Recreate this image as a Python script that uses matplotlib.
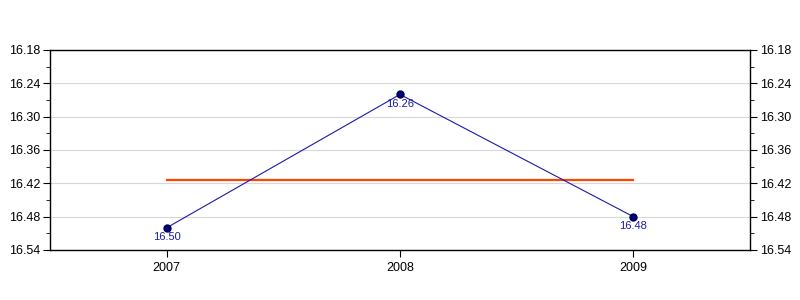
import matplotlib
matplotlib.use("Agg")
import matplotlib.pyplot as plt
from matplotlib.ticker import FixedLocator, FormatStrFormatter

years = [2007, 2008, 2009]
values = [16.50, 16.26, 16.48]
value_labels = ["16.50", "16.26", "16.48"]
y_ticks = [16.18, 16.24, 16.30, 16.36, 16.42, 16.48, 16.54]
y_minor = [16.21, 16.27, 16.33, 16.39, 16.45, 16.51]
mean_value = sum(values) / len(values)

plt.rcParams['font.family'] = ['Liberation Sans', 'DejaVu Sans']

fig = plt.figure(figsize=(8, 3), dpi=100)
ax = fig.add_axes([50/800, 50/300, 700/800, 200/300])

ax.set_xlim(2006.5, 2009.5)
ax.set_ylim(y_ticks[-1], y_ticks[0])

ax.yaxis.set_major_locator(FixedLocator(y_ticks))
ax.yaxis.set_minor_locator(FixedLocator(y_minor))
ax.yaxis.set_major_formatter(FormatStrFormatter('%.2f'))
ax.set_xticks(years)
ax.set_xticklabels([str(y) for y in years])

ax.grid(axis='y', which='major', color='#d8d8d8', linewidth=0.8)
ax.set_axisbelow(True)

ax.plot([years[0], years[-1]], [mean_value, mean_value], color='#ff4500', linewidth=1.6, zorder=2)
ax.plot(years, values, color='#1a1aaa', linewidth=0.8, marker='o', markersize=5,
        markerfacecolor='#000080', markeredgecolor='#000040', zorder=3)

for x, y, lab in zip(years, values, value_labels):
    ax.annotate(lab, (x, y), xytext=(0, -3), textcoords='offset points',
                ha='center', va='top', fontsize=8, color='#1a1aaa')

ax.tick_params(axis='y', which='both', direction='out', left=True, right=True,
               labelleft=True, labelright=True, labelsize=9)
ax.tick_params(axis='y', which='major', length=5, pad=2)
ax.tick_params(axis='y', which='minor', length=3)
ax.tick_params(axis='x', which='major', direction='out', length=5, labelsize=9)

for s in ax.spines.values():
    s.set_linewidth(1.0)

fig.savefig('out.png', dpi=100)
